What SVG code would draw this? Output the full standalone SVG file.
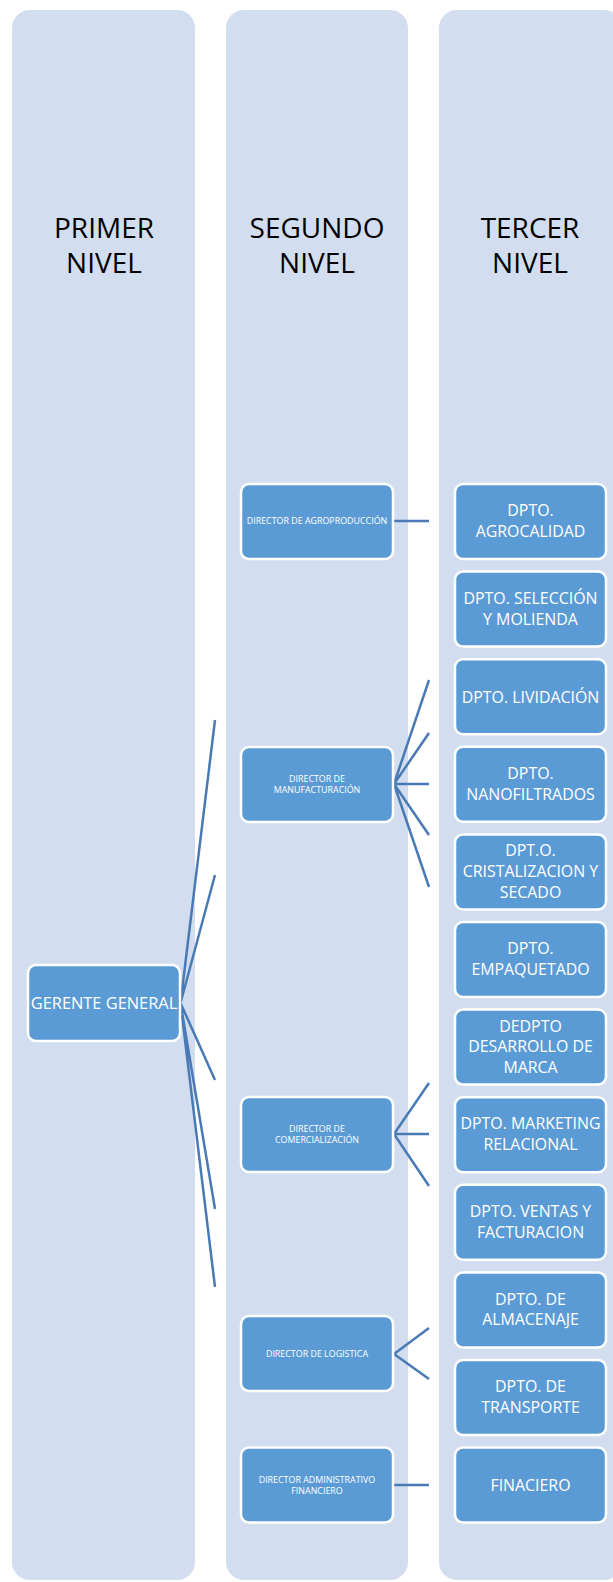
<svg xmlns="http://www.w3.org/2000/svg" width="613" height="1582" viewBox="0 0 613 1582">
<style>
.col{fill:#d2deef}
.box{fill:#5b9bd5;stroke:#ffffff;stroke-width:2.5}
.hdr{font-family:"Open Sans",sans-serif;font-size:28px;fill:#000;text-anchor:middle}
.t3{font-family:"Open Sans",sans-serif;font-size:15.9px;fill:#fff;text-anchor:middle}
.tg{font-family:"Open Sans",sans-serif;font-size:16.4px;fill:#fff;text-anchor:middle}
.t2{font-family:"Open Sans",sans-serif;font-size:8.9px;fill:#fff;text-anchor:middle}
.cn{stroke:#4a7ab5;stroke-width:2.5;fill:none}
</style>
<g id="columns">
<rect class="col" x="12" y="10" width="183" height="1570" rx="18"/>
<rect class="col" x="226" y="10" width="182" height="1570" rx="18"/>
<rect class="col" x="439" y="10" width="183" height="1570" rx="18"/>
<text class="hdr" x="104" y="238">PRIMER</text>
<text class="hdr" x="104" y="273">NIVEL</text>
<text class="hdr" x="317" y="238">SEGUNDO</text>
<text class="hdr" x="317" y="273">NIVEL</text>
<text class="hdr" x="530" y="238">TERCER</text>
<text class="hdr" x="530" y="273">NIVEL</text>
</g>
<g id="connectors">
<path class="cn" d="M180.5 1003 L215 720 M180.5 1003 L215 875 M180.5 1003 L215 1080 M180.5 1003 L215 1209 M180.5 1003 L215 1287"/>
<path class="cn" d="M393 521 L429 521"/>
<path class="cn" d="M394 784 L429 680 M394 784 L429 733 M394 784 L429 784 M394 784 L429 835 M394 784 L429 887"/>
<path class="cn" d="M394 1134 L429 1083 M394 1134 L429 1134 M394 1134 L429 1186"/>
<path class="cn" d="M394 1354 L429 1328 M394 1354 L429 1379"/>
<path class="cn" d="M394 1485 L429 1485"/>
</g>
<g id="gerente">
<rect class="box" x="28" y="965" width="152" height="76" rx="8"/>
<text class="tg" x="104" y="1008.8">GERENTE GENERAL</text>
</g>
<g id="dir-agro">
<rect class="box" x="241" y="484" width="152" height="75" rx="8"/>
<text class="t2" x="317" y="524.3">DIRECTOR DE AGROPRODUCCIÓN</text>
</g>
<g id="dir-manu">
<rect class="box" x="241" y="747" width="152" height="75" rx="8"/>
<text class="t2" x="317" y="781.7">DIRECTOR DE</text>
<text class="t2" x="317" y="793">MANUFACTURACIÓN</text>
</g>
<g id="dir-comer">
<rect class="box" x="241" y="1097" width="152" height="75" rx="8"/>
<text class="t2" x="317" y="1131.7">DIRECTOR DE</text>
<text class="t2" x="317" y="1143.2">COMERCIALIZACIÓN</text>
</g>
<g id="dir-log">
<rect class="box" x="241" y="1316" width="152" height="75" rx="8"/>
<text class="t2" x="317" y="1356.7">DIRECTOR DE LOGISTICA</text>
</g>
<g id="dir-adm">
<rect class="box" x="241" y="1447.6" width="152" height="75" rx="8"/>
<text class="t2" x="317" y="1482.7">DIRECTOR ADMINISTRATIVO</text>
<text class="t2" x="317" y="1493.6">FINANCIERO</text>
</g>
<g id="d1">
<rect class="box" x="455" y="484" width="151" height="75" rx="8"/>
<text class="t3" x="530.5" y="516.2">DPTO.</text>
<text class="t3" x="530.5" y="537">AGROCALIDAD</text>
</g>
<g id="d2">
<rect class="box" x="455" y="571.6" width="151" height="75" rx="8"/>
<text class="t3" x="530.5" y="603.8">DPTO. SELECCIÓN</text>
<text class="t3" x="530.5" y="624.6">Y MOLIENDA</text>
</g>
<g id="d3">
<rect class="box" x="455" y="659.2" width="151" height="75" rx="8"/>
<text class="t3" x="530.5" y="702.5">DPTO. LIVIDACIÓN</text>
</g>
<g id="d4">
<rect class="box" x="455" y="746.8" width="151" height="75" rx="8"/>
<text class="t3" x="530.5" y="779">DPTO.</text>
<text class="t3" x="530.5" y="799.8">NANOFILTRADOS</text>
</g>
<g id="d5">
<rect class="box" x="455" y="834.4" width="151" height="75" rx="8"/>
<text class="t3" x="530.5" y="856.4">DPT.O.</text>
<text class="t3" x="530.5" y="877.2">CRISTALIZACION Y</text>
<text class="t3" x="530.5" y="898">SECADO</text>
</g>
<g id="d6">
<rect class="box" x="455" y="922" width="151" height="75" rx="8"/>
<text class="t3" x="530.5" y="954.2">DPTO.</text>
<text class="t3" x="530.5" y="975">EMPAQUETADO</text>
</g>
<g id="d7">
<rect class="box" x="455" y="1009.6" width="151" height="75" rx="8"/>
<text class="t3" x="530.5" y="1031.6">DEDPTO</text>
<text class="t3" x="530.5" y="1052.4">DESARROLLO DE</text>
<text class="t3" x="530.5" y="1073.2">MARCA</text>
</g>
<g id="d8">
<rect class="box" x="455" y="1097.2" width="151" height="75" rx="8"/>
<text class="t3" x="530.5" y="1129.4">DPTO. MARKETING</text>
<text class="t3" x="530.5" y="1150.2">RELACIONAL</text>
</g>
<g id="d9">
<rect class="box" x="455" y="1184.8" width="151" height="75" rx="8"/>
<text class="t3" x="530.5" y="1217">DPTO. VENTAS Y</text>
<text class="t3" x="530.5" y="1237.8">FACTURACION</text>
</g>
<g id="d10">
<rect class="box" x="455" y="1272.4" width="151" height="75" rx="8"/>
<text class="t3" x="530.5" y="1304.6">DPTO. DE</text>
<text class="t3" x="530.5" y="1325.4">ALMACENAJE</text>
</g>
<g id="d11">
<rect class="box" x="455" y="1360" width="151" height="75" rx="8"/>
<text class="t3" x="530.5" y="1392.2">DPTO. DE</text>
<text class="t3" x="530.5" y="1413">TRANSPORTE</text>
</g>
<g id="d12">
<rect class="box" x="455" y="1447.6" width="151" height="75" rx="8"/>
<text class="t3" x="530.5" y="1490.9">FINACIERO</text>
</g>
</svg>
